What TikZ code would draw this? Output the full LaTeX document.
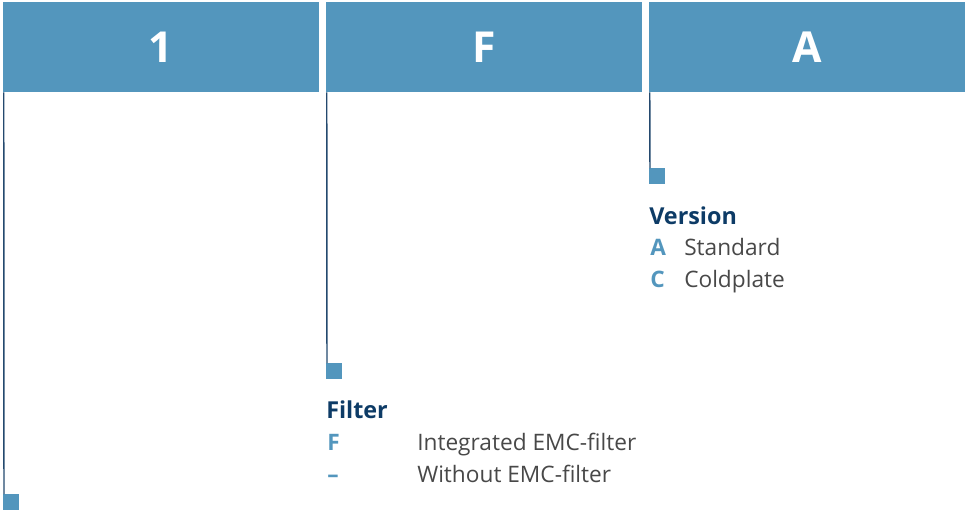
\documentclass[tikz,border=0pt]{standalone}
\usepackage{fontspec}
\setmainfont{Open Sans}
\usetikzlibrary{positioning,calc}
\definecolor{kopfblau}{HTML}{5396BD}
\definecolor{navy}{HTML}{0D3B66}
\definecolor{stielC}{HTML}{24496E}
\definecolor{grauT}{HTML}{484848}
\tikzset{
  kopf/.style={rectangle, fill=kopfblau, text=white, inner sep=0pt,
               minimum width=237pt, minimum height=67.5pt,
               font=\fontsize{32}{32}\selectfont\bfseries},
  quadrat/.style={rectangle, fill=kopfblau, inner sep=0pt, minimum size=12pt, anchor=north west},
  stiel/.style={draw=stielC, line width=1.1pt},
  titel/.style={anchor=base west, inner sep=0pt, text=navy, font=\fontsize{17.5}{20}\selectfont\bfseries},
  kenn/.style={anchor=base west, inner sep=0pt, text=kopfblau, font=\fontsize{17}{20}\selectfont\bfseries},
  besch/.style={anchor=base west, inner sep=0pt, text=grauT, font=\fontsize{17}{20}\selectfont},
}
\begin{document}
\begin{tikzpicture}[x=0.75pt, y=-0.75pt]
    \useasboundingbox (0,0) rectangle (965,511);
    % Kopfzeile
    \node[kopf] (hdA) at (161,47) {1};
    \node[kopf] (hdB) at (484,47) {F};
    \node[kopf] (hdC) at (807,47) {A};
    % Marken
    \node[quadrat] (sqA) at (3,494) {};
    \node[quadrat] (sqB) at (326,363) {};
    \node[quadrat] (sqC) at (649,168) {};
    \draw[stiel]([xshift=0.75pt]hdA.south west)--([xshift=0.75pt]sqA.north west);
    \draw[stiel]([xshift=0.75pt]hdB.south west)--([xshift=0.75pt]sqB.north west);
    \draw[stiel]([xshift=0.75pt]hdC.south west)--([xshift=0.75pt]sqC.north west);
    % Filter
    \node[titel] (tiB) at (326,418) {Filter};
    \node[kenn] (kB1) at (327,450) {F};
    \node[besch] (bB1) at (417,450) {Integrated EMC-filter};
    \node[kenn] (kB2) at (327,482) {–};
    \node[besch] (bB2) at (417,482) {Without EMC-filter};
    % Version
    \node[titel] (tiC) at (649,224) {Version};
    \node[kenn] (kC1) at (650,255) {A};
    \node[besch] (bC1) at (684,255) {Standard};
    \node[kenn] (kC2) at (650,287) {C};
    \node[besch] (bC2) at (684,287) {Coldplate};
  \end{tikzpicture}
\end{document}
